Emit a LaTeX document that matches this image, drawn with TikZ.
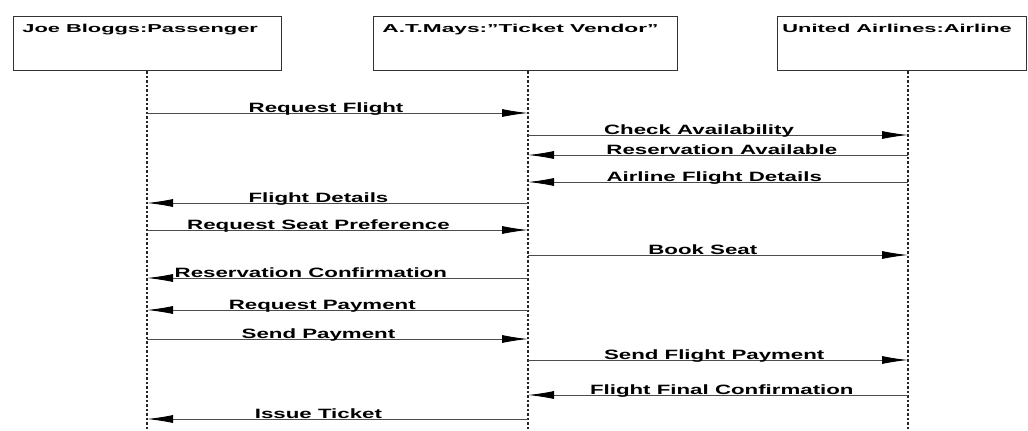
\documentclass[tikz,border=0pt]{standalone}
\usepackage{fontspec}
\setmainfont{Liberation Sans}
\usetikzlibrary{arrows.meta, positioning}

\begin{document}
\begin{tikzpicture}[x=1pt, y=-1pt,
		>={Latex[length=26pt,width=8pt,color=black]},   %Pfeilspitzen
		obj/.style={draw=black!80, line width=1.3pt, minimum width=#1, minimum height=54pt, anchor=north west, inner sep=0pt},
		objname/.style={font=\bfseries\fontsize{11.5}{12}\selectfont, xscale=1.9, anchor=north west, inner sep=0pt},
		life/.style={black!85, line width=1.3pt, dash pattern=on 2.5pt off 2pt},
		msg/.style={->, black!70, line width=0.9pt},
		lbl/.style={font=\bfseries\fontsize{13.5}{14}\selectfont, xscale=1.65, above, inner sep=0.5pt, text depth=0pt, black}]
		\useasboundingbox (0,0) rectangle (1028,431);
		% Objekte
		\node[obj=268] (joe) at (13,16) {};
		\node[obj=304] (mays) at (373,16) {};
		\node[obj=249] (united) at (777,16) {};
		\node[objname] (joename) at ([xshift=9pt,yshift=-8pt]joe.north west) {Joe Bloggs:Passenger};
		\node[objname, xscale=1.04] (maysname) at ([xshift=9pt,yshift=-8pt]mays.north west) {A.T.Mays:"Ticket Vendor"};
		\node[objname] (unitedname) at ([xshift=5pt,yshift=-8pt]united.north west) {United Airlines:Airline};
		% Lebenslinien
		\coordinate (la) at (147,431);
		\coordinate (lb) at (528,431);
		\coordinate (lc) at (908,431);
		\draw[life] (la |- joe.south) -- (la);
		\draw[life] (lb |- mays.south) -- (lb);
		\draw[life] (lc |- united.south) -- (lc);
		% Nachrichten
		\foreach \y/\from/\to/\p/\txt in {113/a/b/.47/Request Flight,
				135/b/c/.45/Check Availability,
				155/c/b/.49/Reservation Available,
				182/c/b/.51/Airline Flight Details,
				203/b/a/.55/Flight Details,
				230/a/b/.45/Request Seat Preference,
				255/b/c/.46/Book Seat,
				278/b/a/.57/Reservation Confirmation,
				310/b/a/.54/Request Payment,
				339/a/b/.45/Send Payment,
				360/b/c/.49/Send Flight Payment,
				395/c/b/.49/Flight Final Confirmation,
				419/b/a/.55/Issue Ticket}
		{
			\coordinate (s) at (l\from |- 0,\y);
			\coordinate (t) at (l\to |- 0,\y);
			\draw[msg] (s) -- (t) node[lbl, pos=\p] {\txt};
		}
	\end{tikzpicture}
\end{document}
